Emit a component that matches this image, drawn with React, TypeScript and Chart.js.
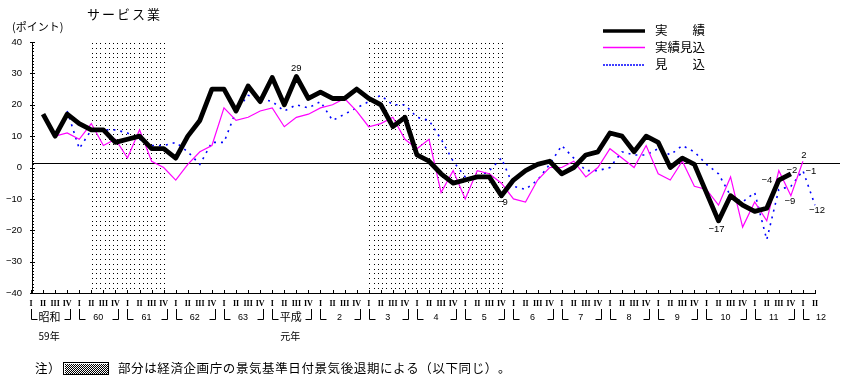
import React, { useEffect, useRef } from 'react';
import { Chart, registerables } from 'chart.js';

Chart.register(...registerables);

// ---- category / tick text ----
const quarterLabels = ['I', 'II', 'III', 'IV'];
const yearRow1 = ['昭和', '60', '61', '62', '63', '平成', '2', '3', '4', '5', '6', '7', '8', '9', '10', '11', '12'];
const yearRow2 = ['59年', '', '', '', '', '元年', '', '', '', '', '', '', '', '', '', '', ''];
const quartersPerYear = [4, 4, 4, 4, 4, 4, 4, 4, 4, 4, 4, 4, 4, 4, 4, 4, 2];
const yTicks = [40, 30, 20, 10, 0, -10, -20, -30, -40];

const categories: string[] = [];
yearRow1.forEach((y, k) => {
  for (let q = 0; q < quartersPerYear[k]; q++) categories.push(`${y}${yearRow2[k]} ${quarterLabels[q]}`);
});

// ---- series (points) ----
const jisseki = [null, 17, 10, 17, 14, 12, 12, 8, 9, 10, 6, 6, 3, 10, 15, 25, 25, 18, 26, 21, 28.7, 20, 29, 22, 24, 22, 22, 25, 22, 20, 13, 16, 4, 2, -2, -5, -4, -3, -3, -9, -4, -1, 1, 2, -2, 0, 4, 5, 11, 10, 5, 10, 8, 0, 3, 1, -8, -17, -9, -12, -14, -13, -4, -2, null, null];
const jissekiMikomi = [null, null, 10, 11, 9, 14, 7, 9, 3, 12, 2, 0, -4, 1, 5, 7, 19, 15, 16, 18, 19, 13, 16, 17, 19, 20, 22, 18, 13, 14, 16, 9, 6, 9, -8, -1, -10, -1, -2, -5, -10, -11, -4, 0, 0, 2, -3, 0, 6, 3, 0, 7, -2, -4, 2, -6, -7, -12, -3, -19, -11, -17, -1, -9, 2, null];
const mikomi = [null, null, null, 18, 6, 12, 12, 12, 11, 9, 7, 7, 8, 5, 1, 8, 8, 18, 23, 22, 21, 18, 20, 19, 21, 15, 17, 19, 21, 23, 20, 20, 16, 15, 9, 2, -3, -3, -1, 3, -6, -7, -4, 1, 7, 3, -1, -1, 0, 5, 4, 4, 6, 4, 7, 5, 1, -2, -9, -11, -8, -23, -7, -6, -1, -12];

const seriesNames = ['実　　績', '実績見込', '見　　込'];
const seriesData = [jisseki, jissekiMikomi, mikomi];

// recession periods (category index spans)
const recessionSpans = [[5, 11], [28, 39]];
// level of the drawn reference line (as in the original figure)
const baseLineValue = 1.3;

// value labels: which series/index gets its value written
const valueLabels = [
  { s: 0, i: 22, dx: 0, dy: -8 },
  { s: 0, i: 39, dx: 1, dy: 7 },
  { s: 0, i: 57, dx: -2, dy: 8.5 },
  { s: 0, i: 62, dx: -12, dy: 0.5 },
  { s: 0, i: 63, dx: 1, dy: -3.5 },
  { s: 1, i: 64, dx: 1, dy: -6 },
  { s: 1, i: 63, dx: -1, dy: 5.5 },
  { s: 2, i: 64, dx: 8, dy: 1 },
  { s: 2, i: 65, dx: 2, dy: 5.5 },
];

const titleText = 'サービス業';
const unitText = '(ポイント)';
const noteHead = '注）';
const noteText = '部分は経済企画庁の景気基準日付景気後退期による（以下同じ）。';

const CJK = '"Noto Sans CJK JP", "Noto Sans CJK SC", sans-serif';
const NUM = '"Liberation Sans", Arial, sans-serif';
const ROMAN = 'bold 8px "Liberation Serif", "DejaVu Serif", serif';

function fmt(v: number) {
  return v < 0 ? '\u2212' + Math.abs(v) : String(v);
}

function drawSpaced(ctx: CanvasRenderingContext2D, text: string, x: number, y: number, pitch: number) {
  let cx = x;
  for (const ch of Array.from(text)) {
    ctx.fillText(ch, cx, y);
    cx += pitch;
  }
}

const decor = {
  id: 'decor',
  beforeDatasetsDraw(chart: any) {
    const { ctx, chartArea: ca, scales } = chart;
    const xs = scales.x;
    const ys = scales.y;
    ctx.save();
    ctx.fillStyle = '#000';
    for (const [a, b] of recessionSpans) {
      const x0 = xs.getPixelForValue(a);
      const x1 = xs.getPixelForValue(b);
      const n = Math.max(1, Math.round((x1 - x0) / 4.3));
      const sx = (x1 - x0) / n;
      for (let c = 0; c <= n; c++) {
        const px = Math.round(x0 + 0.5 + c * sx);
        for (let gy = ca.top + 1; gy < ca.bottom - 3; gy += 4.8) ctx.fillRect(px, Math.round(gy), 1, 1);
      }
    }
    // reference line
    const zy = Math.round(ys.getPixelForValue(baseLineValue)) + 0.5;
    ctx.strokeStyle = '#000';
    ctx.lineWidth = 1;
    ctx.beginPath();
    ctx.moveTo(ca.left + 1, zy);
    ctx.lineTo(840, zy);
    ctx.stroke();
    ctx.restore();
  },
  afterDraw(chart: any) {
    const { ctx, chartArea: ca, scales } = chart;
    const xs = scales.x;
    const ys = scales.y;
    ctx.save();
    ctx.fillStyle = '#000';
    ctx.strokeStyle = '#000';

    // y axis
    const ax = Math.round(ca.left) + 1;
    ctx.fillRect(ax, Math.round(ca.top), 1, Math.round(ca.bottom - ca.top) + 1);
    for (let v = -40; v <= 40; v += 1) {
      const py = Math.round(ys.getPixelForValue(v));
      if (v % 10 === 0) ctx.fillRect(ax - 2, py, 5, 1);
      else ctx.fillRect(ax + 1, py, 1, 1);
    }
    ctx.font = `9.5px ${NUM}`;
    ctx.textAlign = 'right';
    ctx.textBaseline = 'middle';
    for (const v of yTicks) ctx.fillText(fmt(v), 22, ys.getPixelForValue(v));

    // x axis
    const by = Math.round(ca.bottom);
    ctx.fillRect(ax, by, Math.round(ca.right) - ax + 1, 1);
    ctx.textAlign = 'center';
    let idx = 0;
    yearRow1.forEach((yl, k) => {
      const n = quartersPerYear[k];
      const xI = xs.getPixelForValue(idx);
      const xL = xs.getPixelForValue(idx + n - 1);
      for (let q = 0; q < n; q++) {
        const px = xs.getPixelForValue(idx + q);
        ctx.fillRect(Math.round(px), by - 3, 1, 3);
        ctx.font = ROMAN;
        ctx.fillText(quarterLabels[q], px, 304);
      }
      // bracket
      const bx = Math.round(xI) + 0.5;
      ctx.lineWidth = 1;
      ctx.beginPath();
      ctx.moveTo(bx, 309);
      ctx.lineTo(bx, 319.5);
      ctx.lineTo(bx + 6, 319.5);
      ctx.stroke();
      if (n === 4) {
        const ex = Math.round(xL) + 3.5;
        ctx.beginPath();
        ctx.moveTo(ex - 6, 319.5);
        ctx.lineTo(ex, 319.5);
        ctx.lineTo(ex, 309);
        ctx.stroke();
      }
      const cx = n === 4 ? (xI + xL) / 2 : xI + 17;
      if (/^[0-9]+$/.test(yl)) {
        ctx.font = `9px ${NUM}`;
        ctx.fillText(yl, cx + 1, 318);
      } else {
        ctx.font = `11px ${CJK}`;
        ctx.fillText(yl, cx + 0.5, 316.5);
      }
      if (yearRow2[k]) {
        ctx.font = `10px ${CJK}`;
        ctx.fillText(yearRow2[k], cx, 336.5);
      }
      idx += n;
    });

    // value labels
    ctx.font = `9.5px ${NUM}`;
    ctx.textAlign = 'center';
    ctx.textBaseline = 'middle';
    for (const l of valueLabels) {
      const v = seriesData[l.s][l.i] as number;
      ctx.fillText(fmt(v), xs.getPixelForValue(l.i) + l.dx, ys.getPixelForValue(v) + l.dy);
    }

    // title and unit
    ctx.textAlign = 'left';
    ctx.font = `13px ${CJK}`;
    drawSpaced(ctx, titleText, 87, 14, 15);
    ctx.font = `11px ${CJK}`;
    ctx.fillText(unitText, 12, 26.5);

    // legend
    const ly = [31, 47.5, 65];
    ctx.lineWidth = 3.5;
    ctx.beginPath();
    ctx.moveTo(603, ly[0]);
    ctx.lineTo(645, ly[0]);
    ctx.stroke();
    ctx.strokeStyle = '#ff00ff';
    ctx.lineWidth = 1.5;
    ctx.beginPath();
    ctx.moveTo(603, ly[1]);
    ctx.lineTo(645, ly[1]);
    ctx.stroke();
    ctx.strokeStyle = '#0000ff';
    ctx.setLineDash([2, 1]);
    ctx.beginPath();
    ctx.moveTo(603, ly[2]);
    ctx.lineTo(645, ly[2]);
    ctx.stroke();
    ctx.setLineDash([]);
    ctx.font = `12.5px ${CJK}`;
    ctx.fillStyle = '#000';
    seriesNames.forEach((nm, k) => drawSpaced(ctx, nm, 655, ly[k] - 0.5, 12.5));

    // footnote
    ctx.font = `12.5px ${CJK}`;
    drawSpaced(ctx, noteHead, 35, 368.5, 13);
    ctx.strokeStyle = '#000';
    ctx.lineWidth = 1;
    ctx.strokeRect(63.5, 362.5, 45, 12);
    for (let yy = 364; yy < 374; yy++) {
      for (let xx = 65 + (yy % 2); xx < 108; xx += 2) ctx.fillRect(xx, yy, 1, 1);
    }
    ctx.font = `12.5px ${CJK}`;
    drawSpaced(ctx, noteText, 118, 368.5, 13.1);
    ctx.restore();
  },
};

export default function App() {
  const ref = useRef<HTMLCanvasElement | null>(null);
  useEffect(() => {
    if (!ref.current) return;
    const chart = new Chart(ref.current, {
      type: 'line',
      data: {
        labels: categories,
        datasets: [
          {
            label: seriesNames[0],
            data: jisseki,
            borderColor: '#000000',
            borderWidth: 4.8,
            borderJoinStyle: 'round',
            pointRadius: 0,
            tension: 0,
            order: 0,
          },
          {
            label: seriesNames[1],
            data: jissekiMikomi,
            borderColor: '#ff00ff',
            borderWidth: 1.2,
            pointRadius: 0,
            tension: 0,
            order: 1,
          },
          {
            label: seriesNames[2],
            data: mikomi,
            borderColor: '#0000ff',
            borderWidth: 1.6,
            borderDash: [2, 5],
            pointRadius: 0,
            tension: 0,
            order: 2,
          },
        ] as any,
      },
      options: {
        animation: false,
        responsive: false,
        maintainAspectRatio: false,
        layout: { padding: { left: 31, right: 31, top: 42, bottom: 90 } },
        scales: {
          x: { type: 'category', display: false, offset: false },
          y: { type: 'linear', display: false, min: -40, max: 40 },
        },
        plugins: {
          legend: { display: false },
          tooltip: { enabled: false },
          title: { display: false },
        },
      },
      plugins: [decor],
    });
    return () => chart.destroy();
  }, []);
  return (
    <div style={{ position: 'fixed', left: 0, top: 0, width: 846, height: 383, background: '#fff' }}>
      <canvas ref={ref} width={846} height={383} style={{ display: 'block', width: 846, height: 383 }} />
    </div>
  );
}
